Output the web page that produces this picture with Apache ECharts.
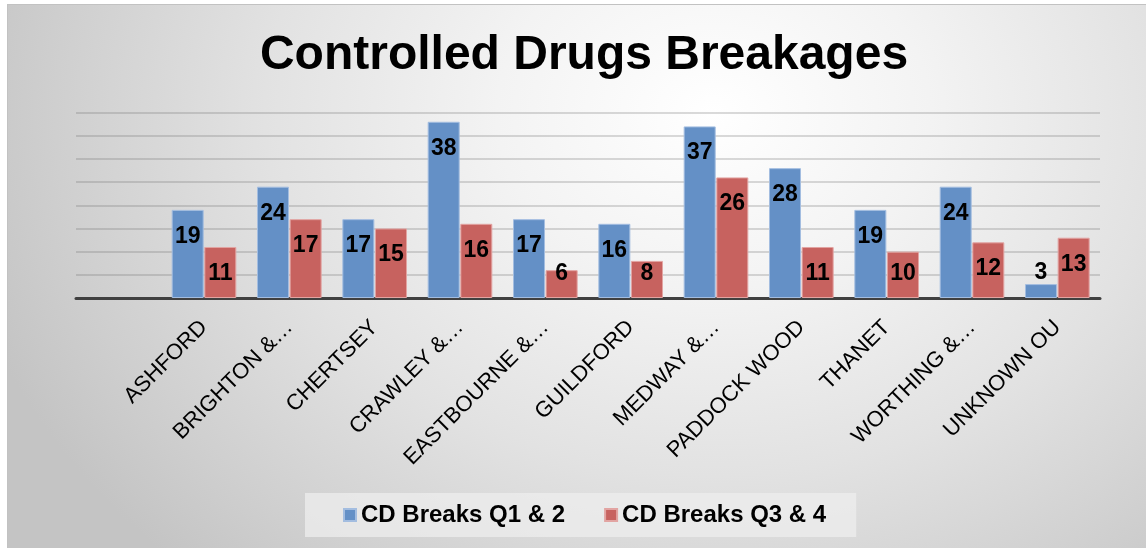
<!DOCTYPE html>
<html>
<head>
<meta charset="utf-8">
<title>Controlled Drugs Breakages</title>
<script src="https://cdn.jsdelivr.net/npm/echarts@6/dist/echarts.min.js"></script>
<style>
  html, body { margin: 0; padding: 0; width: 1146px; height: 548px; background: #ffffff; overflow: hidden; }
  #frame {
    position: absolute; left: 7px; top: 4px; right: 0; bottom: 0;
    border-top: 1px solid #c2c2c2; border-left: 1px solid #c2c2c2;
    background: radial-gradient(ellipse 68% 115% at 62% 20%, #ffffff 0%, #f3f3f3 28%, #e2e2e2 58%, #cfcfcf 85%, #c4c4c4 100%);
  }
  #chart { position: absolute; left: 0; top: 0; width: 1146px; height: 548px; }
</style>
</head>
<body>
<div id="frame"></div>
<div id="chart"></div>
<script>
// Operational units (labels as shown on the axis)
const categories = [
  'ASHFORD', 'BRIGHTON &…', 'CHERTSEY', 'CRAWLEY &…', 'EASTBOURNE &…',
  'GUILDFORD', 'MEDWAY &…', 'PADDOCK WOOD', 'THANET', 'WORTHING &…', 'UNKNOWN OU'
];
const seriesNames = ['CD Breaks Q1 & 2', 'CD Breaks Q3 & 4'];
const breaksQ1Q2 = [19, 24, 17, 38, 17, 16, 37, 28, 19, 24, 3];
const breaksQ3Q4 = [11, 17, 15, 16, 6, 8, 26, 11, 10, 12, 13];
const valueTicks = { min: 0, max: 40, interval: 5 };

const FONT = "'Liberation Sans', Arial, Helvetica, sans-serif";

// Value labels sit inside the top of tall bars, inside the bottom of short
// ones, and above bars too small to hold them.
function labelled(values) {
  return values.map(function (v) {
    let label;
    if (v < 5) {
      label = { position: 'top', distance: 0 };
    } else if (v <= 10) {
      label = { position: 'insideBottom', distance: 12.5 };
    } else {
      label = { position: 'insideTop', distance: 15 };
    }
    return { value: v, label: label };
  });
}

function barSeries(name, values, fill, edge) {
  return {
    name: name,
    type: 'bar',
    data: labelled(values),
    barWidth: 32,
    barGap: '2%',
    itemStyle: { color: fill, borderColor: edge, borderWidth: 1 },
    label: {
      show: true,
      color: '#000000',
      fontFamily: FONT,
      fontWeight: 'bold',
      fontSize: 23
    }
  };
}

const chart = echarts.init(document.getElementById('chart'), null, { renderer: 'canvas' });

chart.setOption({
  backgroundColor: 'transparent',
  animation: false,
  title: {
    text: 'Controlled Drugs Breakages',
    left: 579,
    textAlign: 'center',
    top: 27,
    textStyle: { fontFamily: FONT, fontWeight: 'bold', fontSize: 48, color: '#000000' }
  },
  legend: {
    data: seriesNames,
    left: 305,
    top: 493,
    orient: 'horizontal',
    itemWidth: 12,
    itemHeight: 12,
    itemGap: 39,
    padding: [10, 30, 10, 38],
    backgroundColor: 'rgba(238,238,238,0.75)',
    icon: 'rect',
    textStyle: { fontFamily: FONT, fontWeight: 'bold', fontSize: 24, color: '#000000' }
  },
  grid: { left: 76, right: 46, top: 112.5, bottom: 250, containLabel: false },
  xAxis: {
    type: 'category',
    data: categories,
    min: -1,
    axisLine: { lineStyle: { color: '#404040', width: 3 } },
    axisTick: { show: false },
    axisLabel: {
      interval: 0,
      rotate: 45,
      margin: 26,
      color: '#000000',
      fontFamily: FONT,
      fontSize: 22
    }
  },
  yAxis: {
    type: 'value',
    min: valueTicks.min,
    max: valueTicks.max,
    interval: valueTicks.interval,
    axisLabel: { show: false },
    axisLine: { show: false },
    axisTick: { show: false },
    splitLine: { lineStyle: { color: 'rgba(110,110,110,0.34)', width: 1.5 } }
  },
  series: [
    barSeries(seriesNames[0], breaksQ1Q2, '#6490c6', '#a3bde0'),
    barSeries(seriesNames[1], breaksQ3Q4, '#c7625f', '#e2a4a2')
  ]
});
</script>
</body>
</html>
